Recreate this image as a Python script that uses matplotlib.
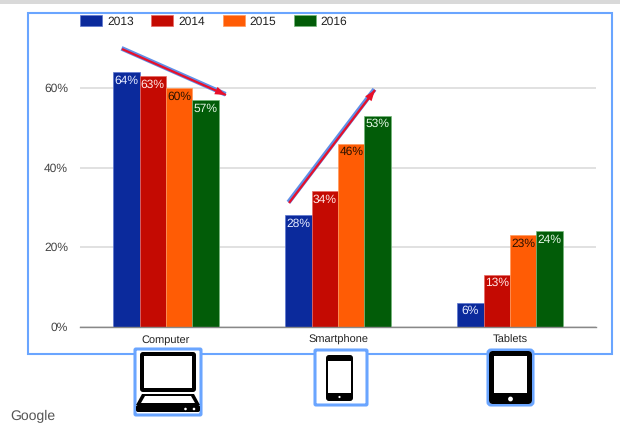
import matplotlib
matplotlib.use("Agg")
import matplotlib.pyplot as plt
import numpy as np
from matplotlib.patches import FancyBboxPatch, Rectangle, Circle, Polygon

plt.rcParams['font.family'] = ['Liberation Sans', 'DejaVu Sans']
plt.rcParams['text.hinting'] = 'none'
plt.rcParams['text.hinting_factor'] = 1

categories = ['Computer', 'Smartphone', 'Tablets']
years = ['2013', '2014', '2015', '2016']
vals_2013 = [64, 28, 6]
vals_2014 = [63, 34, 13]
vals_2015 = [60, 46, 23]
vals_2016 = [57, 53, 24]
yticks = [0, 20, 40, 60]

series = [vals_2013, vals_2014, vals_2015, vals_2016]
colors = ['#0b2a9c', '#c40a02', '#ff5c05', '#025c08']
edges = ['#5d76cf', '#e86a64', '#ff9a5c', '#74b87a']
label_colors = ['#e6ebff', '#ffe6e4', '#2b1200', '#e3f5e4']

W, H = 620, 429
fig = plt.figure(figsize=(W / 100, H / 100), dpi=100, facecolor='white')

# pixel helpers, y counted from the top of the image
left, right, top, bottom = 80, 596, 33, 326.5
ax = fig.add_axes([left / W, 1 - bottom / H, (right - left) / W, (bottom - top) / H])
ax.set_ylim(0, (bottom - top) / 3.975)
ax.set_xlim(-0.5, 2.5)

bw = 0.154
x = np.arange(len(categories))
for i, vals in enumerate(series):
    pos = x + (i - 1.5) * bw
    bars = ax.bar(pos, vals, bw, color=colors[i], edgecolor=edges[i], linewidth=0.5,
                  label=years[i], zorder=3)
    for p, v in zip(pos, vals):
        ax.annotate(f'{v}%', (p, v), xytext=(0, -2), textcoords='offset points',
                    ha='center', va='top', fontsize=8.6, color=label_colors[i], zorder=4)

ax.set_yticks(yticks)
ax.set_yticklabels([f'{t}%' for t in yticks], fontsize=8.4, color='#444444')
ax.set_xticks(x)
ax.set_xticklabels(categories, fontsize=8, color='#222222')
ax.tick_params(axis='both', length=0)
ax.tick_params(axis='y', pad=8.5)
ax.tick_params(axis='x', pad=6)
ax.grid(axis='y', color='#dcdcdc', linewidth=1.2, zorder=0)
for s in ['top', 'left', 'right']:
    ax.spines[s].set_visible(False)
ax.spines['bottom'].set_color('#888888')
ax.spines['bottom'].set_linewidth(1.0)
ax.spines['bottom'].set_zorder(5)

ax.legend(loc='upper left', bbox_to_anchor=(80 / W, 1 - 15.5 / H), bbox_transform=fig.transFigure,
          ncol=4, frameon=False, fontsize=8.5, borderpad=0, borderaxespad=0,
          handlelength=1.86, handleheight=0.95, handletextpad=0.42, columnspacing=1.5,
          labelcolor='#222222')

# overlay in image pixels: frame, arrows, icons
ov = fig.add_axes([0, 0, 1, 1], zorder=10)
ov.set_xlim(0, W)
ov.set_ylim(H, 0)
ov.axis('off')
ov.patch.set_alpha(0)

blue = '#6aa5ff'
ov.add_patch(Rectangle((0, 0), W, 4, fc='#d9d9d9', ec='none'))
ov.add_patch(Rectangle((28, 13), 584, 341, fc='none', ec=blue, lw=1.5))


def arrow(p0, p1):
    ov.plot([p0[0] - 0.5, p1[0] - 0.5], [p0[1] - 0.7, p1[1] - 0.7], color='#5f8fe8', lw=3.4,
            solid_capstyle='butt')
    ov.plot([p0[0], p1[0]], [p0[1], p1[1]], color='#e8102a', lw=1.6, solid_capstyle='butt')
    d = np.array(p1, float) - np.array(p0, float)
    d /= np.hypot(*d)
    n = np.array([-d[1], d[0]])
    tip = np.array(p1, float)
    base = tip - d * 11
    ov.add_patch(Polygon([tip, base + n * 4, base - n * 4], fc='#e8102a', ec='none', zorder=3))


arrow((122, 49), (226, 95))
arrow((289, 203), (375, 90))


def rbox(x0, y0, x1, y1, r, **kw):
    ov.add_patch(FancyBboxPatch((x0 + r, y0 + r), x1 - x0 - 2 * r, y1 - y0 - 2 * r,
                                boxstyle=f'round,pad={r},rounding_size={r}', **kw))


# laptop
rbox(135, 349, 201, 415, 1, fc='white', ec=blue, lw=2.2)
rbox(140, 352, 196, 392, 3, fc='black', ec='none')
ov.add_patch(Rectangle((144, 356), 48, 32, fc='white', ec='none'))
ov.add_patch(Polygon([(142, 394), (194, 394), (200, 405), (136, 405)], fc='black', ec='none'))
ov.add_patch(Polygon([(145, 396), (191, 396), (195, 403), (141, 403)], fc='white', ec='none'))
rbox(136, 405, 200, 412, 2, fc='black', ec='none')
ov.add_patch(Circle((185.5, 409), 1.3, fc='white', ec='none'))
ov.add_patch(Circle((194, 409), 1.3, fc='white', ec='none'))

# phone
rbox(315, 350, 367, 405, 1, fc='white', ec=blue, lw=2.2)
rbox(326, 355, 353, 401, 3, fc='black', ec='none')
ov.add_patch(Rectangle((328, 361), 23, 32, fc='white', ec='none'))
ov.add_patch(Circle((339.5, 397), 1.1, fc='white', ec='none'))

# tablet
rbox(488, 350, 533, 405, 3, fc='white', ec=blue, lw=2.2)
rbox(489, 351, 532, 404, 4, fc='black', ec='none')
ov.add_patch(Rectangle((494, 356), 33, 37, fc='white', ec='none'))
ov.add_patch(Circle((510.5, 399), 2.4, fc='white', ec='none'))

ov.text(10, 416, 'Google', fontsize=10, color='#555555', ha='left', va='center')

fig.savefig('out.png', dpi=100, facecolor='white')
